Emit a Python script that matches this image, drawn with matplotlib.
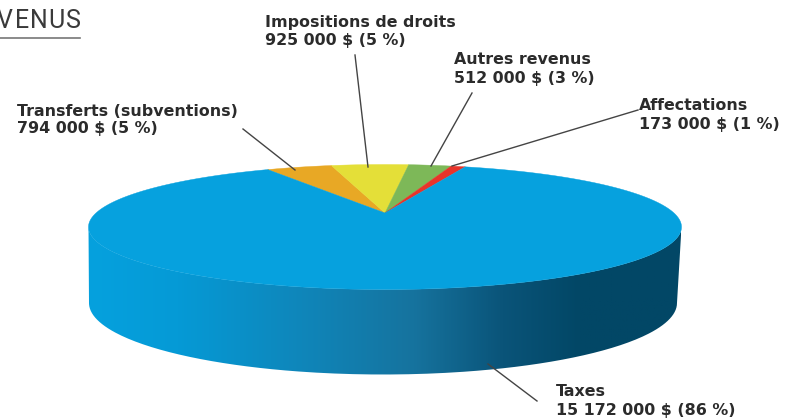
import numpy as np
import matplotlib
matplotlib.use('Agg')
import matplotlib.pyplot as plt
from matplotlib.colors import LinearSegmentedColormap
from matplotlib.patches import PathPatch, Polygon
from matplotlib.path import Path

# revenue by source, clockwise from the left end of the small slices
categories = ['Transferts (subventions)', 'Impositions de droits', 'Autres revenus', 'Affectations', 'Taxes']
values = [794000, 925000, 512000, 173000, 15172000]
value_labels = ['794 000 $ (5 %)', '925 000 $ (5 %)', '512 000 $ (3 %)', '173 000 $ (1 %)', '15 172 000 $ (86 %)']
colors = ['#E8A825', '#E4DF38', '#7DB858', '#E8342A', '#06A1DE']

label_pos = [(17, 120), (265, 32), (454, 69), (639, 115), (556, 401)]
leader_lines = [((243, 129), (295, 170)), ((355, 55), (368, 167)), ((472, 93), (431, 166)),
                ((638, 110), (452, 166)), ((488, 364), (537, 401))]

# geometry of the tilted pie, in image pixels
cx, cy, a, b = 385, 227, 296.5, 62.5
apex = (385, 213)
start_t = 113.3     # ellipse parameter where the first small slice starts
small_span = 39.0   # the foreshortened span shared by the four small slices


def rim(t_deg):
    t = np.radians(t_deg)
    return cx + a * np.cos(t), cy - b * np.sin(t)


fig = plt.figure(figsize=(8.02, 4.18), dpi=100)
ax = fig.add_axes([0, 0, 1, 1])
ax.set_xlim(0, 802)
ax.set_ylim(418, 0)
ax.axis('off')

# side wall: lower half of the top ellipse joined to a deeper bottom ellipse
t_top = np.linspace(180, 360, 200)
xt, yt = rim(t_top)
bx = 383 + 294 * np.cos(np.radians(t_top[::-1]))
by = 303 - 71.5 * np.sin(np.radians(t_top[::-1]))
side = Path(np.column_stack([np.r_[xt, bx], np.r_[yt, by]]))
side_cmap = LinearSegmentedColormap.from_list('side', [(0, '#06A1DE'), (0.15, '#059AD6'), (0.36, '#0F86BA'),
                                                       (0.55, '#16739E'), (0.7, '#0A5479'), (0.83, '#024766'),
                                                       (1, '#024766')])
grad = ax.imshow(np.linspace(0, 1, 256)[None, :], cmap=side_cmap, extent=(88, 681, 380, 220), aspect='auto', zorder=1)
patch = PathPatch(side, fc='none', ec='none', zorder=1)
ax.add_patch(patch)
grad.set_clip_path(patch)
ax.set_xlim(0, 802)
ax.set_ylim(418, 0)

# top face
small_total = sum(values[:4])
t0 = start_t
for val, col in zip(values, colors):
    if val == values[-1]:
        span = 360 - small_span
    else:
        span = small_span * val / small_total
    xs, ys = rim(np.linspace(t0, t0 - span, 300))
    pts = np.column_stack([np.r_[apex[0], xs], np.r_[apex[1], ys]])
    ax.add_patch(Polygon(pts, closed=True, fc=col, ec=col, lw=0.3, zorder=2))
    t0 -= span

for (p0, p1) in leader_lines:
    ax.plot([p0[0], p1[0]], [p0[1], p1[1]], color='#444444', lw=1.0, zorder=3)

for name, val, pos in zip(categories, value_labels, label_pos):
    ax.text(pos[0], pos[1], name + '\n' + val, fontsize=11.4, fontweight='bold', color='#2b2b2b',
            family='DejaVu Sans', va='center', ha='left', linespacing=1.25, zorder=4)

# section title, cut off by the left edge
title_x = 4.5
for ch in 'VENUS':
    ax.text(title_x, 21, ch, fontsize=18, color='#3a3a3a', family='Roboto',
            ha='center', va='center', zorder=4)
    title_x += 17.3
ax.plot([0, 80], [38, 38], color='#777777', lw=1.2, zorder=4)

fig.savefig('out.png', dpi=100)
